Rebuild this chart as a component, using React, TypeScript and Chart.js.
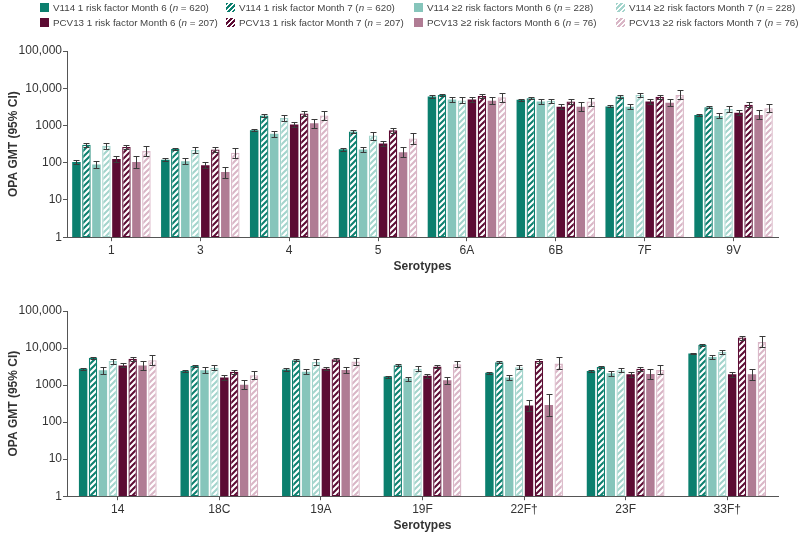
import React, { useEffect, useRef } from 'react';
import { Chart, registerables } from 'chart.js';

Chart.register(...registerables);

const FONT = '"Liberation Sans", Arial, Helvetica, sans-serif';

const seriesNames = [
  'V114 1 risk factor Month 6',
  'V114 1 risk factor Month 7',
  'V114 ≥2 risk factors Month 6',
  'V114 ≥2 risk factors Month 7',
  'PCV13 1 risk factor Month 6',
  'PCV13 1 risk factor Month 7',
  'PCV13 ≥2 risk factors Month 6',
  'PCV13 ≥2 risk factors Month 7',
];
const seriesN = ['620', '620', '228', '228', '207', '207', '76', '76'];
const seriesColors = ['#0b7f6e', '#0b7f6e', '#86c5bb', '#a3d4cc', '#5c0b33', '#5c0b33', '#b07c94', '#d9b6c6'];
const seriesHatched = [false, true, false, true, false, true, false, true];

const yTickValues = [1, 10, 100, 1000, 10000, 100000];
const yTickLabels = ['1', '10', '100', '1000', '10,000', '100,000'];

// ---- Top panel ----
const topCategories = ['1', '3', '4', '5', '6A', '6B', '7F', '9V'];
const topV114R1M6 = [105, 120, 750, 230, 6000, 4900, 3250, 1900];
const topV114R1M6Lo = [95, 112, 690, 205, 5500, 4600, 3050, 1800];
const topV114R1M6Hi = [118, 130, 820, 255, 6600, 5200, 3450, 2000];
const topV114R1M7 = [305, 235, 1850, 690, 6600, 5400, 6000, 3100];
const topV114R1M7Lo = [270, 215, 1700, 630, 6100, 5000, 5600, 2900];
const topV114R1M7Hi = [340, 255, 2000, 750, 7200, 5800, 6400, 3300];
const topV114R2M6 = [90, 110, 600, 225, 5000, 4400, 3200, 1800];
const topV114R2M6Lo = [72, 90, 500, 190, 4300, 3800, 2800, 1550];
const topV114R2M6Hi = [112, 135, 720, 265, 5900, 5100, 3700, 2150];
const topV114R2M7 = [285, 220, 1600, 540, 4700, 4600, 6600, 2750];
const topV114R2M7Lo = [235, 180, 1300, 420, 3900, 4000, 5700, 2300];
const topV114R2M7Hi = [345, 270, 1950, 680, 5700, 5300, 7600, 3300];
const topPCVR1M6 = [125, 85, 1060, 330, 5000, 3200, 4400, 2200];
const topPCVR1M6Lo = [102, 70, 900, 280, 4300, 2750, 3800, 1900];
const topPCVR1M6Hi = [155, 105, 1250, 395, 5800, 3750, 5100, 2550];
const topPCVR1M7 = [265, 228, 2100, 740, 6200, 4400, 5900, 3600];
const topPCVR1M7Lo = [230, 195, 1850, 620, 5400, 3800, 5200, 3100];
const topPCVR1M7Hi = [305, 265, 2400, 880, 7100, 5100, 6700, 4200];
const topPCVR2M6 = [105, 56, 1150, 190, 4600, 3200, 4100, 1900];
const topPCVR2M6Lo = [70, 40, 880, 140, 3700, 2400, 3300, 1450];
const topPCVR2M6Hi = [155, 78, 1500, 260, 5800, 4200, 5200, 2550];
const topPCVR2M7 = [205, 185, 1850, 450, 5700, 4400, 6600, 2900];
const topPCVR2M7Lo = [150, 135, 1400, 320, 4300, 3400, 5000, 2250];
const topPCVR2M7Hi = [280, 245, 2400, 640, 7600, 5600, 8700, 3800];

// ---- Bottom panel ----
const botCategories = ['14', '18C', '19A', '19F', '22F†', '23F', '33F†'];
const botV114R1M6 = [2750, 2400, 2650, 1700, 2150, 2400, 7100];
const botV114R1M6Lo = [2600, 2200, 2450, 1600, 2050, 2250, 6800];
const botV114R1M6Hi = [2900, 2600, 2850, 1800, 2300, 2550, 7400];
const botV114R1M7 = [5450, 3250, 4700, 3450, 4150, 3080, 12300];
const botV114R1M7Lo = [5100, 3000, 4400, 3250, 3950, 2900, 11700];
const botV114R1M7Hi = [5800, 3500, 5000, 3650, 4400, 3300, 13000];
const botV114R2M6 = [2500, 2500, 2300, 1500, 1600, 2100, 5700];
const botV114R2M6Lo = [2000, 2100, 2000, 1300, 1400, 1800, 5000];
const botV114R2M6Hi = [3100, 3000, 2700, 1700, 1850, 2450, 6500];
const botV114R2M7 = [4450, 2950, 4200, 2750, 3050, 2500, 7800];
const botV114R2M7Lo = [3800, 2500, 3500, 2400, 2700, 2200, 6800];
const botV114R2M7Hi = [5200, 3500, 5000, 3200, 3500, 2900, 9000];
const botPCVR1M6 = [3400, 1600, 2750, 1780, 280, 1950, 1950];
const botPCVR1M6Lo = [3000, 1400, 2500, 1600, 200, 1700, 1650];
const botPCVR1M6Hi = [3900, 1850, 3100, 1950, 390, 2250, 2300];
const botPCVR1M7 = [5150, 2300, 4950, 3150, 4450, 2750, 19300];
const botPCVR1M7Lo = [4600, 2000, 4500, 2900, 3900, 2400, 17000];
const botPCVR1M7Hi = [5900, 2600, 5500, 3400, 5200, 3100, 21500];
const botPCVR2M6 = [3400, 1020, 2550, 1350, 290, 2000, 1950];
const botPCVR2M6Lo = [2500, 800, 2100, 1100, 150, 1500, 1400];
const botPCVR2M6Hi = [4600, 1350, 3100, 1700, 580, 2700, 2700];
const botPCVR2M7 = [4700, 1850, 4300, 3650, 3800, 2550, 14500];
const botPCVR2M7Lo = [3500, 1450, 3400, 3000, 2700, 1950, 10500];
const botPCVR2M7Hi = [6500, 2400, 5400, 4400, 5900, 3400, 20500];

const topValues = [topV114R1M6, topV114R1M7, topV114R2M6, topV114R2M7, topPCVR1M6, topPCVR1M7, topPCVR2M6, topPCVR2M7];
const topLows = [topV114R1M6Lo, topV114R1M7Lo, topV114R2M6Lo, topV114R2M7Lo, topPCVR1M6Lo, topPCVR1M7Lo, topPCVR2M6Lo, topPCVR2M7Lo];
const topHighs = [topV114R1M6Hi, topV114R1M7Hi, topV114R2M6Hi, topV114R2M7Hi, topPCVR1M6Hi, topPCVR1M7Hi, topPCVR2M6Hi, topPCVR2M7Hi];
const botValues = [botV114R1M6, botV114R1M7, botV114R2M6, botV114R2M7, botPCVR1M6, botPCVR1M7, botPCVR2M6, botPCVR2M7];
const botLows = [botV114R1M6Lo, botV114R1M7Lo, botV114R2M6Lo, botV114R2M7Lo, botPCVR1M6Lo, botPCVR1M7Lo, botPCVR2M6Lo, botPCVR2M7Lo];
const botHighs = [botV114R1M6Hi, botV114R1M7Hi, botV114R2M6Hi, botV114R2M7Hi, botPCVR1M6Hi, botPCVR1M7Hi, botPCVR2M6Hi, botPCVR2M7Hi];

function makePattern(color: string): CanvasPattern | string {
  const s = 6;
  const c = document.createElement('canvas');
  c.width = s;
  c.height = s;
  const ctx = c.getContext('2d');
  if (!ctx) return color;
  ctx.fillStyle = '#ffffff';
  ctx.fillRect(0, 0, s, s);
  ctx.strokeStyle = color;
  ctx.lineWidth = 2;
  ctx.beginPath();
  ctx.moveTo(0, s);
  ctx.lineTo(s, 0);
  ctx.moveTo(-1, 1);
  ctx.lineTo(1, -1);
  ctx.moveTo(s - 1, s + 1);
  ctx.lineTo(s + 1, s - 1);
  ctx.stroke();
  const p = ctx.createPattern(c, 'repeat');
  return p || color;
}

const errorBarPlugin = {
  id: 'errorBars',
  afterDatasetsDraw(chart: any) {
    const ctx = chart.ctx;
    const yScale = chart.scales.y;
    ctx.save();
    ctx.strokeStyle = '#3a3a3a';
    ctx.lineWidth = 1;
    chart.data.datasets.forEach((ds: any, i: number) => {
      const meta = chart.getDatasetMeta(i);
      meta.data.forEach((el: any, j: number) => {
        const lo = ds.lows[j];
        const hi = ds.highs[j];
        const x = Math.round(el.x) + 0.5;
        const yl = Math.round(yScale.getPixelForValue(lo)) + 0.5;
        const yh = Math.round(yScale.getPixelForValue(hi)) + 0.5;
        const cap = 3;
        ctx.beginPath();
        ctx.moveTo(x, yl);
        ctx.lineTo(x, yh);
        ctx.moveTo(x - cap, yh);
        ctx.lineTo(x + cap, yh);
        ctx.moveTo(x - cap, yl);
        ctx.lineTo(x + cap, yl);
        ctx.stroke();
      });
    });
    ctx.restore();
  },
};

type PanelProps = {
  categories: string[];
  values: number[][];
  lows: number[][];
  highs: number[][];
  top: number;
  height: number;
  padTop: number;
  padBottom: number;
  categoryPercentage: number;
};

function Panel(props: PanelProps) {
  const ref = useRef<HTMLCanvasElement>(null);
  useEffect(() => {
    const canvas = ref.current;
    if (!canvas) return;
    const datasets = seriesNames.map((name, i) => ({
      label: name,
      data: props.values[i],
      lows: props.lows[i],
      highs: props.highs[i],
      backgroundColor: seriesHatched[i] ? makePattern(seriesColors[i]) : seriesColors[i],
      borderColor: seriesColors[i],
      borderWidth: seriesHatched[i] ? 1.3 : 0,
      borderSkipped: false,
      categoryPercentage: props.categoryPercentage,
      barPercentage: 0.85,
    }));
    const chart = new Chart(canvas, {
      type: 'bar',
      data: { labels: props.categories, datasets: datasets as any },
      plugins: [errorBarPlugin],
      options: {
        responsive: false,
        devicePixelRatio: 1,
        animation: false,
        layout: { padding: { top: props.padTop, bottom: props.padBottom, left: 0, right: 22 } },
        plugins: { legend: { display: false }, tooltip: { enabled: false } },
        scales: {
          x: {
            offset: true,
            grid: { display: true, drawOnChartArea: false, drawTicks: true, tickLength: 4, offset: false, color: '#555' },
            border: { display: true, color: '#555', width: 1 },
            ticks: { color: '#333', padding: 2, font: { family: FONT, size: 12 }, maxRotation: 0, autoSkip: false },
            title: { display: true, text: 'Serotypes', color: '#333', padding: { top: 0, bottom: 2 }, font: { family: FONT, size: 12, weight: 'bold' } },
          },
          y: {
            type: 'logarithmic',
            min: 1,
            max: 100000,
            afterBuildTicks: (scale: any) => {
              scale.ticks = yTickValues.map((v) => ({ value: v }));
            },
            afterFit: (scale: any) => {
              scale.width = 67;
            },
            grid: { display: true, drawOnChartArea: false, drawTicks: true, tickLength: 4, color: '#555' },
            border: { display: true, color: '#555', width: 1 },
            ticks: {
              color: '#333',
              padding: 1,
              font: { family: FONT, size: 12 },
              callback: (value: any) => {
                const idx = yTickValues.indexOf(Number(value));
                return idx >= 0 ? yTickLabels[idx] : '';
              },
            },
            title: { display: true, text: 'OPA GMT (95% CI)', color: '#333', padding: { top: 6, bottom: 0 }, font: { family: FONT, size: 12, weight: 'bold' } },
          },
        },
      } as any,
    });
    return () => chart.destroy();
  }, []);
  return (
    <div style={{ position: 'absolute', left: 0, top: props.top, width: 800, height: props.height }}>
      <canvas ref={ref} width={800} height={props.height} style={{ display: 'block' }} />
    </div>
  );
}

const legendLefts = [40, 226, 414, 616];
const legendTops = [1, 16];

function Legend() {
  return (
    <>
      {seriesNames.map((name, i) => {
        const row = i >= 4 ? 1 : 0;
        const col = i % 4;
        const color = seriesColors[i];
        const swatchBg = seriesHatched[i]
          ? `repeating-linear-gradient(135deg, ${color} 0px, ${color} 1.5px, #ffffff 1.5px, #ffffff 3.5px)`
          : color;
        return (
          <div
            key={name}
            style={{
              position: 'absolute',
              left: legendLefts[col],
              top: legendTops[row],
              height: 12,
              display: 'flex',
              alignItems: 'center',
              whiteSpace: 'nowrap',
              fontFamily: FONT,
              fontSize: 9.8,
              color: '#444',
            }}
          >
            <span style={{ display: 'inline-block', width: 9, height: 9, background: swatchBg, marginRight: 4 }} />
            <span>
              {name} (<i>n</i> = {seriesN[i]})
            </span>
          </div>
        );
      })}
    </>
  );
}

export default function App() {
  return (
    <div style={{ position: 'absolute', left: 0, top: 0, width: 800, height: 536, background: '#fff', overflow: 'hidden' }}>
      <Panel
        categories={topCategories}
        values={topValues}
        lows={topLows}
        highs={topHighs}
        top={0}
        height={280}
        padTop={51}
        padBottom={4}
        categoryPercentage={0.9}
      />
      <Panel
        categories={botCategories}
        values={botValues}
        lows={botLows}
        highs={botHighs}
        top={280}
        height={256}
        padTop={31}
        padBottom={1}
        categoryPercentage={0.78}
      />
      <Legend />
    </div>
  );
}
